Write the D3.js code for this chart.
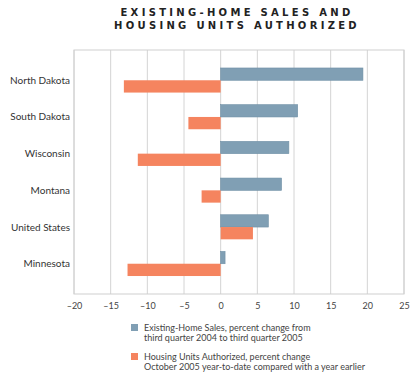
<!DOCTYPE html>
<html>
<head>
<meta charset="utf-8">
<script src="https://cdn.jsdelivr.net/npm/d3@7"></script>
<style>
  body { margin: 0; background: #fff; }
  text { font-family: "Lato", "DejaVu Sans", sans-serif; fill: #333; }
</style>
</head>
<body>
<svg id="chart"></svg>
<script>
// data
const states = ["North Dakota", "South Dakota", "Wisconsin", "Montana", "United States", "Minnesota"]
const homeSales = [19.4, 10.5, 9.3, 8.3, 6.5, 0.6]
const unitsAuthorized = [-13.2, -4.4, -11.3, -2.6, 4.4, -12.7]
const xTicks = [-20, -15, -10, -5, 0, 5, 10, 15, 20, 25]
const titleLines = ["EXISTING-HOME SALES AND", "HOUSING UNITS AUTHORIZED"]
const legendItems = [
  ["Existing-Home Sales, percent change from", "third quarter 2004 to third quarter 2005"],
  ["Housing Units Authorized, percent change", "October 2005 year-to-date compared with a year earlier"],
]

const width = 415, height = 374
const margin = { top: 50, bottom: 80, left: 74, right: 11 }
const blue = "#809fb4", orange = "#f5845f"

const svg = d3.select("#chart").attr("width", width).attr("height", height)

// title
svg.selectAll(".title")
  .data(titleLines)
  .join("text")
  .attr("class", "title")
  .attr("x", 237)
  .attr("y", (d, i) => 16 + i * 13)
  .attr("text-anchor", "middle")
  .style("font-family", "'DejaVu Sans', sans-serif")
  .style("font-weight", "bold")
  .style("font-size", "10px")
  .style("letter-spacing", "3.3px")
  .style("fill", "#222")
  .text((d) => d)

// scales
const x = d3.scaleLinear()
  .domain([-20, 25])
  .range([margin.left, width - margin.right])

const y = d3.scaleBand()
  .domain(states)
  .range([margin.top, height - margin.bottom])
  .paddingInner(0.33)
  .paddingOuter(0.49)

// grid
svg.append("g")
  .selectAll("line")
  .data(xTicks)
  .join("line")
  .attr("x1", (d) => x(d))
  .attr("x2", (d) => x(d))
  .attr("y1", margin.top)
  .attr("y2", height - margin.bottom)
  .attr("stroke", "#d4d4d4")
  .attr("stroke-width", 1)

svg.append("rect")
  .attr("x", x(-20))
  .attr("y", margin.top)
  .attr("width", x(25) - x(-20))
  .attr("height", height - margin.bottom - margin.top)
  .attr("fill", "none")
  .attr("stroke", "#cfcfcf")

// x axis
const xAxis = svg.append("g")
  .attr("transform", `translate(0, ${height - margin.bottom})`)
  .call(d3.axisBottom(x).tickValues(xTicks).tickSize(0).tickPadding(9)
    .tickFormat((d) => (d < 0 ? "\u2013" + Math.abs(d) : d)))
xAxis.select(".domain").remove()
xAxis.selectAll("text").style("font-size", "9px").style("fill", "#444")

// y labels
svg.append("g")
  .selectAll("text")
  .data(states)
  .join("text")
  .attr("x", 70)
  .attr("y", (d) => y(d) + y.bandwidth() / 2)
  .attr("dy", "0.35em")
  .attr("text-anchor", "end")
  .style("font-size", "10px")
  .text((d) => d)

const barH = y.bandwidth() / 2

// bars
svg.append("g")
  .selectAll("rect")
  .data(states)
  .join("rect")
  .attr("x", (d, i) => x(Math.min(0, homeSales[i])))
  .attr("y", (d) => y(d))
  .attr("width", (d, i) => Math.abs(x(homeSales[i]) - x(0)))
  .attr("height", barH)
  .attr("fill", blue)
  .attr("stroke", "#6f90a6")
  .attr("stroke-width", 0.6)

svg.append("g")
  .selectAll("rect")
  .data(states)
  .join("rect")
  .attr("x", (d, i) => x(Math.min(0, unitsAuthorized[i])))
  .attr("y", (d) => y(d) + barH)
  .attr("width", (d, i) => Math.abs(x(unitsAuthorized[i]) - x(0)))
  .attr("height", barH)
  .attr("fill", orange)

// legend
const legend = svg.append("g")
  .selectAll("g")
  .data(legendItems)
  .join("g")
  .attr("transform", (d, i) => `translate(131, ${324 + i * 29})`)

legend.append("rect")
  .attr("width", 7)
  .attr("height", 7)
  .attr("fill", (d, i) => (i === 0 ? blue : orange))

legend.selectAll("text")
  .data((d) => d)
  .join("text")
  .attr("x", 13)
  .attr("y", (d, i) => 7 + i * 10)
  .style("font-size", "9px")
  .style("fill", "#444")
  .text((d) => d)
</script>
</body>
</html>
